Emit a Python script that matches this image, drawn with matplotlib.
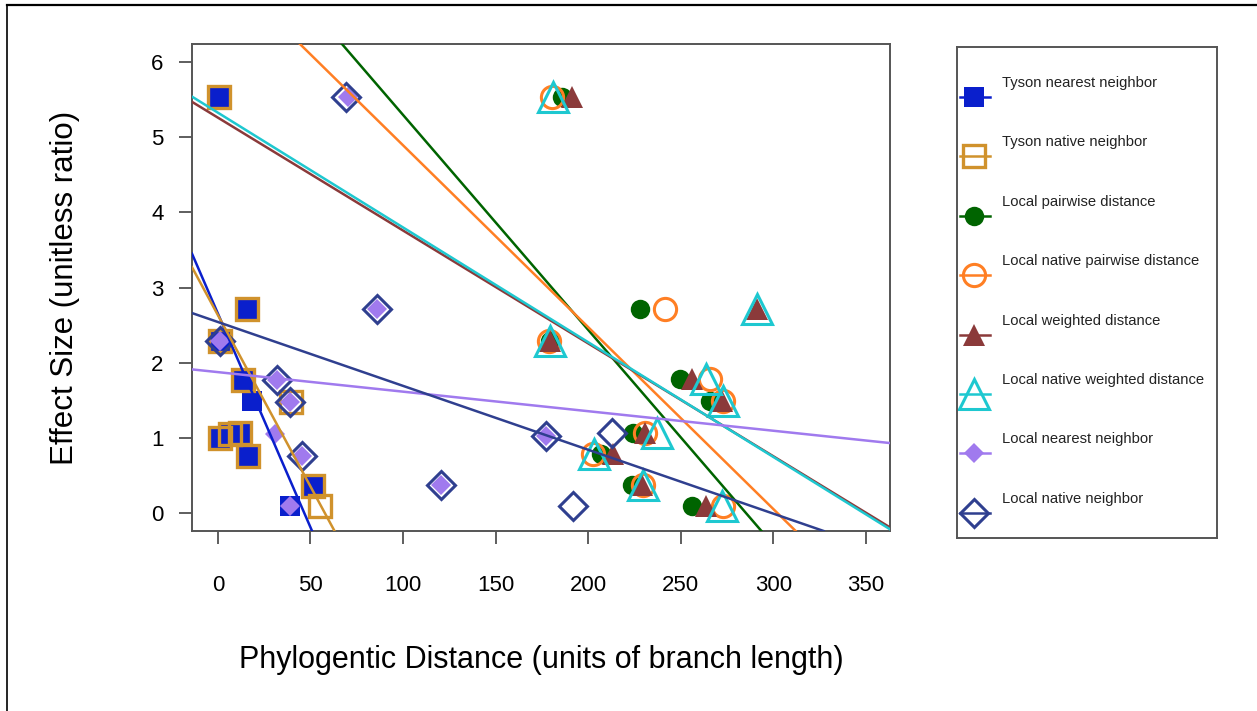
import matplotlib
matplotlib.use('Agg')
import matplotlib.pyplot as plt
from matplotlib.lines import Line2D

plt.rcParams['font.family'] = ['Liberation Sans', 'DejaVu Sans']

# Tyson nearest / native neighbor
tyson_near_x = [0.5, 15.5, 1.5, 13.7, 18.2, 1.1, 6.5, 11.9, 16.4, 51.5, 38.9]
tyson_near_y = [5.53, 2.71, 2.29, 1.77, 1.49, 1.00, 1.05, 1.07, 0.76, 0.36, 0.09]
tyson_nat_x = [0.5, 15.5, 1.0, 13.7, 39.5, 1.1, 6.5, 11.9, 16.4, 51.5, 55.0]
tyson_nat_y = [5.53, 2.71, 2.29, 1.77, 1.48, 1.00, 1.05, 1.07, 0.76, 0.36, 0.09]

# local community metrics
local_y = [5.53, 2.71, 2.29, 1.78, 1.49, 1.07, 0.79, 0.37, 0.09]
pair_x = [185.7, 227.9, 179.5, 249.5, 265.7, 224.0, 206.8, 223.5, 256.0]
nat_pair_x = [180.3, 241.4, 179.0, 265.7, 273.0, 230.5, 202.5, 229.5, 272.7]
weighted_x = [191.0, 291.0, 179.5, 256.0, 272.0, 230.5, 213.3, 229.0, 263.5]
nat_weighted_x = [180.9, 291.0, 179.5, 263.5, 273.0, 237.0, 203.0, 229.5, 272.0]

# local nearest / native neighbor
local_nn_x = [70.0, 86.0, 1.2, 31.9, 38.9, 177.0, 30.8, 45.4, 120.4, 38.9]
local_nn_y = [5.53, 2.71, 2.29, 1.77, 1.48, 1.03, 1.05, 0.76, 0.37, 0.09]
local_nat_x = [69.1, 85.9, 1.2, 31.9, 38.9, 177.0, 212.7, 45.4, 120.4, 191.7]
local_nat_y = [5.53, 2.71, 2.29, 1.77, 1.48, 1.03, 1.07, 0.76, 0.37, 0.09]

# fitted lines (intercept, slope)
intercepts = [2.653, 2.632, 8.156, 7.312, 5.26, 5.326, 1.874, 2.541]
slopes = [-0.0569, -0.0456, -0.0286, -0.0242, -0.01502, -0.01527, -0.0026, -0.0085]

labels = ['Tyson nearest neighbor', 'Tyson native neighbor', 'Local pairwise distance',
          'Local native pairwise distance', 'Local weighted distance',
          'Local native weighted distance', 'Local nearest neighbor', 'Local native neighbor']
colors = ['#0a1fcc', '#d0922c', '#006400', '#ff7f24', '#8b3a3a', '#1ec8d0', '#a07aee', '#2f3f8f']

# marker styles: (marker, size, filled, edge width)
styles = [('s', 14, True, 0), ('s', 16.5, False, 2.4), ('o', 14, True, 0), ('o', 16, False, 2.2),
          ('^', 16, True, 0), ('^', 21, False, 2.2), ('D', 10, True, 0), ('D', 14.5, False, 2.2)]

series = [(tyson_near_x, tyson_near_y), (tyson_nat_x, tyson_nat_y),
          (pair_x, local_y), (nat_pair_x, local_y), (weighted_x, local_y),
          (nat_weighted_x, local_y), (local_nn_x, local_nn_y), (local_nat_x, local_nat_y)]

fig = plt.figure(figsize=(12.57, 7.11), dpi=100)
W, H = 1257, 711

# outer frame of the screenshot
fig.add_artist(Line2D([7 / W, 1], [1 - 5 / H, 1 - 5 / H], color='black', lw=1.6))
fig.add_artist(Line2D([7 / W, 7 / W], [0, 1 - 5 / H], color='black', lw=1.2))

ax = fig.add_axes([192 / W, 1 - 531 / H, (890 - 192) / W, (531 - 44) / H])

def mstyle(i):
    m, s, filled, ew = styles[i]
    if filled:
        return dict(marker=m, markersize=s, markerfacecolor=colors[i], markeredgecolor=colors[i], markeredgewidth=0)
    return dict(marker=m, markersize=s, markerfacecolor='none', markeredgecolor=colors[i], markeredgewidth=ew)

for i, (xs, ys) in enumerate(series):
    ax.plot(xs, ys, linestyle='none', zorder=2 + i * 0.1, **mstyle(i))

for i in range(len(labels)):
    ax.axline((0, intercepts[i]), slope=slopes[i], color=colors[i], lw=1.8, zorder=4)

ax.set_xlim(-14, 363)
ax.set_ylim(-0.24, 6.24)
ax.set_xticks(range(0, 351, 50))
ax.set_yticks(range(0, 7))
ax.tick_params(axis='both', direction='out', length=9.5, width=1.1, color='#333333', labelsize=16)
ax.tick_params(axis='x', pad=22)
ax.tick_params(axis='y', pad=11)
for sp in ax.spines.values():
    sp.set_color('#555555')
    sp.set_linewidth(1.4)

ax.set_xlabel('Phylogentic Distance (units of branch length)', fontsize=22)
ax.set_ylabel('Effect Size (unitless ratio)', fontsize=22.5)
ax.xaxis.set_label_coords(0.5, (531 - 660) / (531 - 44))
ax.yaxis.set_label_coords((65 - 192) / (890 - 192), 0.5)
ax.xaxis.label.set_va('center')
ax.yaxis.label.set_va('center')

# legend box drawn in its own pixel-coordinate axes
lx0, lx1, ly0, ly1 = 957, 1217, 47, 538
lg = fig.add_axes([lx0 / W, 1 - ly1 / H, (lx1 - lx0) / W, (ly1 - ly0) / H])
lg.set_xlim(0, lx1 - lx0)
lg.set_ylim(ly1 - ly0, 0)
lg.set_xticks([])
lg.set_yticks([])
for sp in lg.spines.values():
    sp.set_color('#555555')
    sp.set_linewidth(1.4)

for i, lab in enumerate(labels):
    ym = 97 + 59.4 * i - ly0
    yt = 83 + 59.4 * i - ly0
    lg.plot([3, 33], [ym, ym], color=colors[i], lw=1.8)
    lg.plot([17], [ym], linestyle='none', **mstyle(i))
    lg.text(45, yt, lab, fontsize=10.6, va='center', ha='left', color='#222222')

fig.savefig('out.png', dpi=100)
